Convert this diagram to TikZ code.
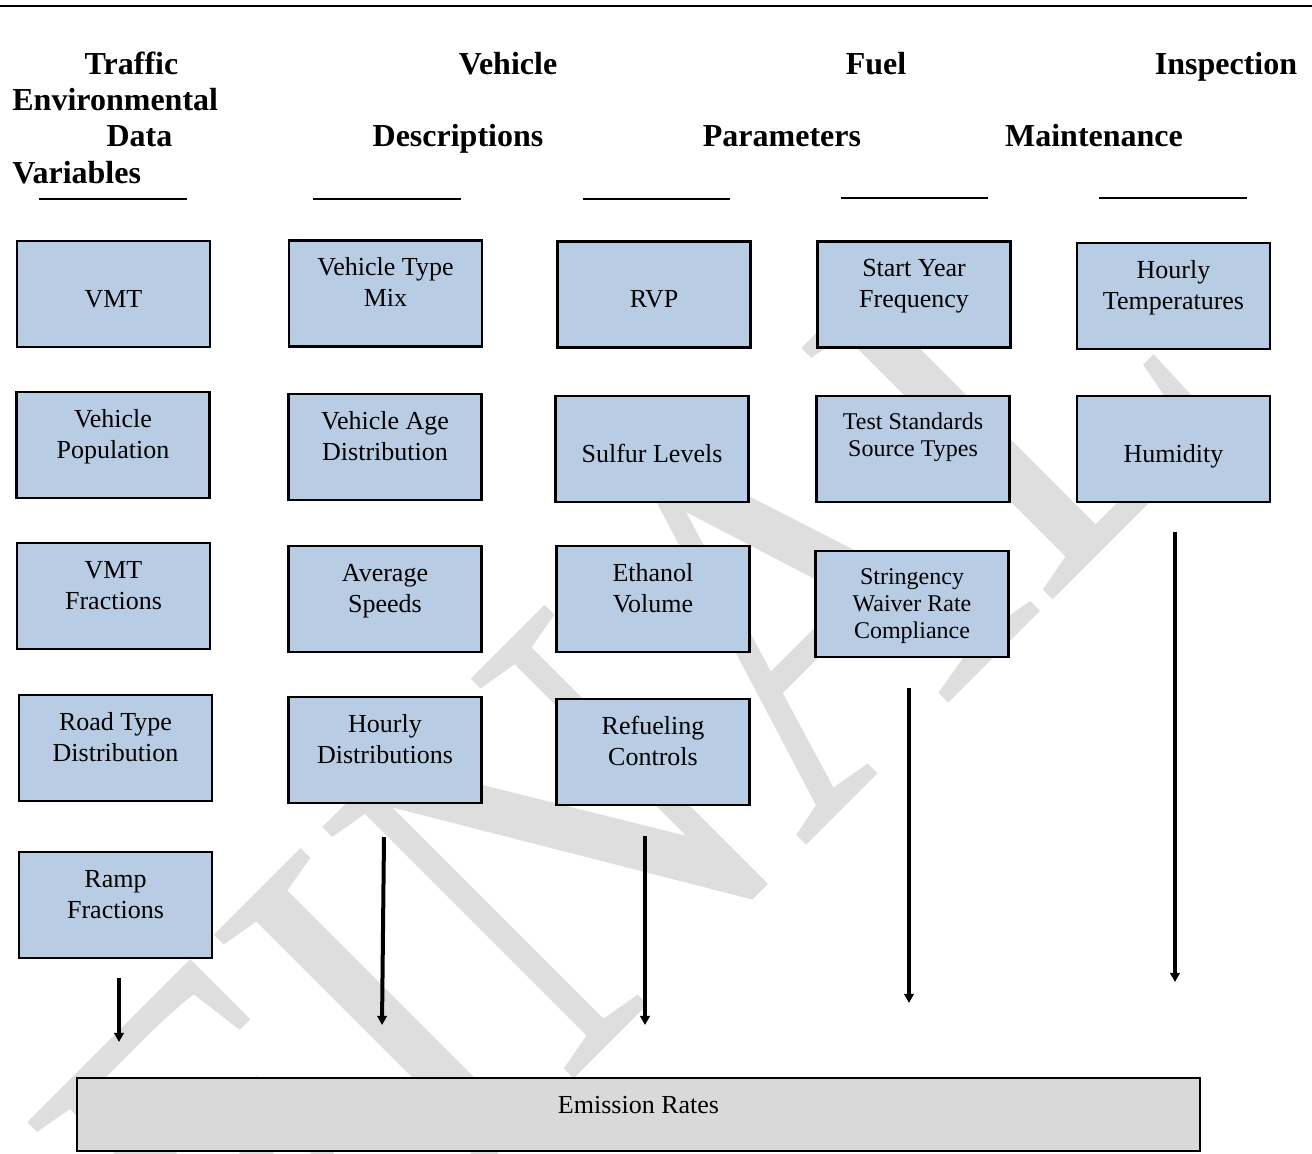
\documentclass[tikz,border=0pt]{standalone}
\usepackage{fontspec}
\setmainfont{Liberation Serif}
\usetikzlibrary{arrows.meta}
\definecolor{boxblue}{HTML}{B8CCE4}
\definecolor{boxgray}{HTML}{D9D9D9}
\definecolor{wmgray}{HTML}{DEDEDE}
% box text: first baseline at #1 below the top
\newcommand{\bxt}[2][17.5pt]{\parbox[c][53pt][t]{96.5pt}{\centering\fontsize{13}{15.5}\selectfont\rule{0pt}{#1}#2\par}}
\newcommand{\bxs}[1]{\parbox[c][53pt][t]{96.5pt}{\centering\fontsize{12}{13.5}\selectfont\rule{0pt}{16.6pt}#1\par}}
\begin{document}
\begin{tikzpicture}[x=0.5pt,y=-0.5pt,
  inbox/.style={draw=black,line width=1.3pt,fill=boxblue,inner sep=0pt,outer sep=0pt},
  outbox/.style={draw=black,line width=1.3pt,fill=boxgray,inner sep=0pt,outer sep=0pt},
  head/.style={font=\fontsize{16}{18.5}\selectfont\bfseries,inner sep=0pt,anchor=base},
  headl/.style={head,anchor=base west},
  rulel/.style={line width=1.3pt},
  flow/.style={line width=2pt,-{Triangle[width=4.8pt,length=4.6pt]}}]
\useasboundingbox (0,0) rectangle (1312,1153);
% watermark
\begin{scope}
\clip (0,0) rectangle (1312,1153);
\node[rotate=45,text=wmgray,inner sep=0pt] (wm) at (631,768)
  {\scalebox{1.02}[1.18]{\fontsize{230}{230}\selectfont FINAL}};
\end{scope}
% top rule
\coordinate (tl) at (0,6);
\coordinate (tr) at (1312,6);
\draw[line width=1pt] (tl) -- (tr);
% headings
\node[head]  (h1a) at (131.5,74) {Traffic};
\node[headl] (h1b) at (12,110) {Environmental};
\node[head]  (h1c) at (139.5,146.5) {Data};
\node[headl] (h1d) at (12,183) {Variables};
\node[head]  (h2a) at (508,74) {Vehicle};
\node[head]  (h2b) at (458,146.5) {Descriptions};
\node[head]  (h3a) at (876,74) {Fuel};
\node[head]  (h3b) at (782,146.5) {Parameters};
\node[head]  (h4a) at (1226,74) {Inspection};
\node[head]  (h4b) at (1094,146.5) {Maintenance};
% underlines
\coordinate (u1a) at (39,199);   \coordinate (u1b) at (187,199);
\coordinate (u2a) at (313,199);  \coordinate (u2b) at (461,199);
\coordinate (u3a) at (583,199);  \coordinate (u3b) at (730,199);
\coordinate (u4a) at (841,198);  \coordinate (u4b) at (988,198);
\coordinate (u5a) at (1099,198); \coordinate (u5b) at (1247,198);
\draw[rulel] (u1a) -- (u1b);
\draw[rulel] (u2a) -- (u2b);
\draw[rulel] (u3a) -- (u3b);
\draw[rulel] (u4a) -- (u4b);
\draw[rulel] (u5a) -- (u5b);
% column 1
\node[inbox] (vmt)  at (113.5,294) {\bxt[33pt]{VMT}};
\node[inbox] (vpop) at (113,445)   {\bxt{Vehicle\\Population}};
\node[inbox] (vmtf) at (113.5,596) {\bxt{VMT\\Fractions}};
\node[inbox] (road) at (115.5,748) {\bxt{Road Type\\Distribution}};
\node[inbox] (ramp) at (115.5,905) {\bxt{Ramp\\Fractions}};
% column 2
\node[inbox] (vtm)  at (385.5,293.5) {\bxt{Vehicle Type\\Mix}};
\node[inbox] (vad)  at (385,447)     {\bxt{Vehicle Age\\Distribution}};
\node[inbox] (avgs) at (385,599)     {\bxt{Average\\Speeds}};
\node[inbox] (hrd)  at (385,750)     {\bxt{Hourly\\Distributions}};
% column 3
\node[inbox] (rvp)  at (654,294.5) {\bxt[33pt]{RVP}};
\node[inbox] (sulf) at (652,449)   {\bxt[33pt]{Sulfur Levels}};
\node[inbox] (eth)  at (653,599)   {\bxt{Ethanol\\Volume}};
\node[inbox] (refu) at (653,752)   {\bxt{Refueling\\Controls}};
% column 4
\node[inbox] (sy)   at (914,294.5) {\bxt{Start Year\\Frequency}};
\node[inbox] (tss)  at (913,449)   {\bxs{Test Standards\\Source Types}};
\node[inbox] (strg) at (912,604)   {\bxs{Stringency\\Waiver Rate\\Compliance}};
% column 5
\node[inbox] (htmp) at (1173.5,296) {\bxt{Hourly\\Temperatures}};
\node[inbox] (hum)  at (1173.5,449) {\bxt[33pt]{Humidity}};
% output
\node[outbox] (er) at (638.5,1114.5)
  {\parbox[c][36.5pt][t]{561.5pt}{\centering\fontsize{13}{15.5}\selectfont\rule{0pt}{17.5pt}Emission Rates\par}};
% arrows
\coordinate (a1s) at (119,978);  \coordinate (a1e) at (119,1042);
\coordinate (a2s) at (384,837);  \coordinate (a2e) at (382,1025);
\coordinate (a3s) at (645,836);  \coordinate (a3e) at (645,1025);
\coordinate (a4s) at (909,688);  \coordinate (a4e) at (909,1003);
\coordinate (a5s) at (1175,532); \coordinate (a5e) at (1175,982);
\draw[flow] (a1s) -- (a1e);
\draw[flow] (a2s) -- (a2e);
\draw[flow] (a3s) -- (a3e);
\draw[flow] (a4s) -- (a4e);
\draw[flow] (a5s) -- (a5e);
\end{tikzpicture}
\end{document}
